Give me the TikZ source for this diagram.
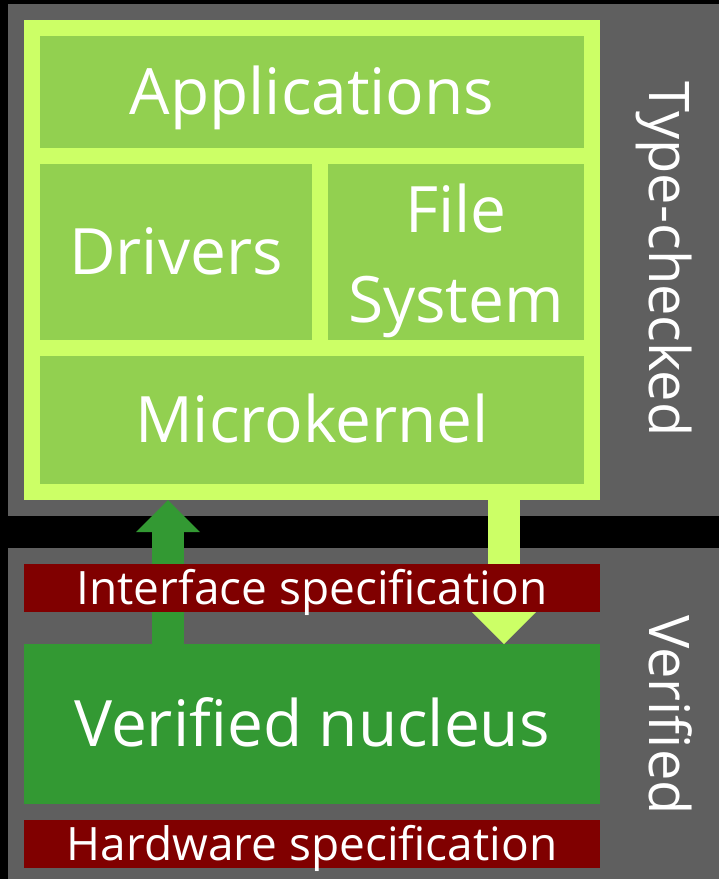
\documentclass[tikz,border=0pt]{standalone}
\usepackage{fontspec}
\setmainfont{Open Sans}
\usepackage{tikz}
\usetikzlibrary{arrows.meta}
\definecolor{panelgray}{HTML}{5F5F5F}
\definecolor{limeedge}{HTML}{CCFF66}
\definecolor{cellgreen}{HTML}{92D050}
\definecolor{coregreen}{HTML}{339933}
\definecolor{specred}{HTML}{800000}

\begin{document}
\begin{tikzpicture}[x=1pt, y=-1pt,
  box/.style={inner sep=0pt, outer sep=0pt, anchor=north west, text=white},
  panel/.style={box, fill=panelgray, minimum width=711pt},
  cell/.style={box, fill=cellgreen, font=\fontsize{64}{77}\selectfont, text height=45.7pt, text depth=0pt},
  celltext/.style={text=white, inner sep=0pt, anchor=base, font=\fontsize{64}{77}\selectfont},
  spec/.style={box, fill=specred, minimum width=576pt, minimum height=48pt, font=\fontsize{46}{56}\selectfont, text height=33pt, text depth=0pt},
  side/.style={text=white, inner sep=0pt, rotate=-90, font=\fontsize{56}{66}\selectfont, text height=40pt, text depth=0pt},
  fatarrow/.style={line width=32pt, -{Triangle[width=64pt, length=32pt, line width=0pt]}}]

\fill[black] (0,0) rectangle (719,879);
\useasboundingbox (0,0) rectangle (719,879);

\node[panel, minimum height=512pt] (typed) at (8,4) {};
\node[panel, minimum height=331pt] (verif) at (8,548) {};

\node[box, fill=limeedge, minimum width=576pt, minimum height=480pt] (frame) at (24,20) {};
\node[cell, minimum width=544pt, minimum height=112pt] (apps) at (40,36) {Applications};
\node[cell, minimum width=272pt, minimum height=176pt] (drv) at (40,164) {Drivers};
\node[cell, minimum width=256pt, minimum height=176pt] (fs) at (328,164) {};
\node[celltext] (fsA) at (456,232) {File};
\node[celltext] (fsB) at (456,322) {System};
\node[cell, minimum width=544pt, minimum height=128pt] (mk) at (40,356) {Microkernel};

\node[cell, fill=coregreen, minimum width=576pt, minimum height=160pt] (nucleus) at (24,644) {Verified nucleus};

\coordinate (upx) at (168,0);
\coordinate (downx) at (504,0);
\draw[fatarrow, coregreen] (nucleus.north -| upx) -- (frame.south -| upx);
\draw[fatarrow, limeedge] (frame.south -| downx) -- (nucleus.north -| downx);

\node[spec] (ifspec) at (24,564) {Interface specification};
\node[spec] (hwspec) at (24,820) {Hardware specification};

\node[side] (tclabel) at (669,259) {Type-checked};
\node[side] (vlabel) at (669,715) {Verified};
\end{tikzpicture}
\end{document}
